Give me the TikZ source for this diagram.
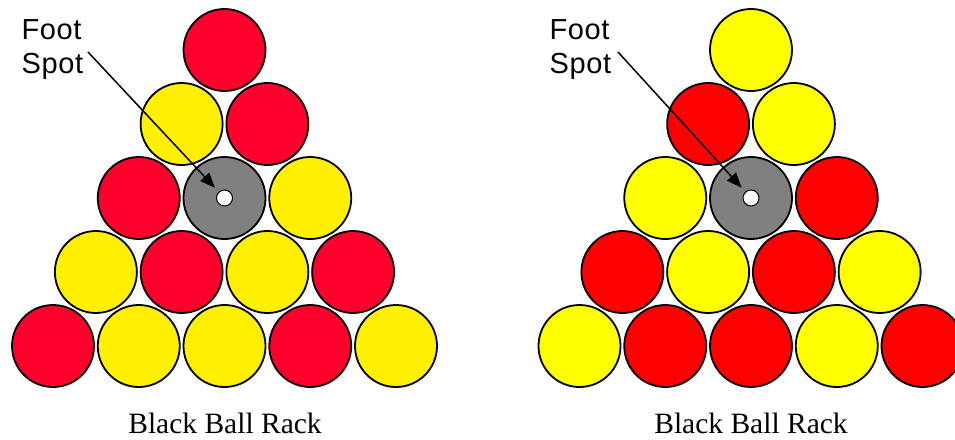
\documentclass[tikz,border=0pt]{standalone}
\usepackage{fontspec}
\setmainfont{Liberation Serif}
\newfontfamily\labelsans[LetterSpace=2]{Liberation Sans}
\usetikzlibrary{arrows.meta}
\definecolor{redL}{RGB}{255,0,45}
\definecolor{yelL}{RGB}{255,240,0}
\definecolor{redR}{RGB}{255,0,0}
\definecolor{yelR}{RGB}{255,255,0}
\definecolor{grayball}{RGB}{128,128,128}
\tikzset{
  ball/.style={circle,draw=black,line width=1.8pt,minimum size=82pt,inner sep=0pt,outer sep=0pt},
  hole/.style={circle,draw=black,line width=1pt,fill=white,minimum size=16pt,inner sep=0pt,outer sep=0pt},
  lbl/.style={anchor=base west,inner sep=0pt,font=\labelsans\fontsize{29}{34}\selectfont},
  caption/.style={anchor=base,inner sep=0pt,font=\fontsize{29.5}{34}\selectfont},
  pointer/.style={line width=1.5pt,-{Triangle[length=15pt,width=12pt]},shorten >=6pt}
}
\newcommand\rackball[5]{%
  \node[ball,fill=#5] (#1) at ({#2-#3*42.875+#4*85.75},{50+#3*74}) {};}
\begin{document}
\begin{tikzpicture}[x=1pt,y=-1pt]
\useasboundingbox (0,0) rectangle (955,439);
\clip (0,0) rectangle (955,439);
% left rack
\rackball{L00}{224.5}{0}{0}{redL}
\rackball{L10}{224.5}{1}{0}{yelL}
\rackball{L11}{224.5}{1}{1}{redL}
\rackball{L20}{224.5}{2}{0}{redL}
\rackball{L21}{224.5}{2}{1}{grayball}
\rackball{L22}{224.5}{2}{2}{yelL}
\rackball{L30}{224.5}{3}{0}{yelL}
\rackball{L31}{224.5}{3}{1}{redL}
\rackball{L32}{224.5}{3}{2}{yelL}
\rackball{L33}{224.5}{3}{3}{redL}
\rackball{L40}{224.5}{4}{0}{redL}
\rackball{L41}{224.5}{4}{1}{yelL}
\rackball{L42}{224.5}{4}{2}{yelL}
\rackball{L43}{224.5}{4}{3}{redL}
\rackball{L44}{224.5}{4}{4}{yelL}
\node[hole] (Lhole) at (L21.center) {};
% right rack
\rackball{R00}{751}{0}{0}{yelR}
\rackball{R10}{751}{1}{0}{redR}
\rackball{R11}{751}{1}{1}{yelR}
\rackball{R20}{751}{2}{0}{yelR}
\rackball{R21}{751}{2}{1}{grayball}
\rackball{R22}{751}{2}{2}{redR}
\rackball{R30}{751}{3}{0}{redR}
\rackball{R31}{751}{3}{1}{yelR}
\rackball{R32}{751}{3}{2}{redR}
\rackball{R33}{751}{3}{3}{yelR}
\rackball{R40}{751}{4}{0}{yelR}
\rackball{R41}{751}{4}{1}{redR}
\rackball{R42}{751}{4}{2}{redR}
\rackball{R43}{751}{4}{3}{yelR}
\rackball{R44}{751}{4}{4}{redR}
\node[hole] (Rhole) at (R21.center) {};
% labels
\node[lbl] (Lfoot) at (21.5,39.3) {Foot};
\node[lbl] (Lspot) at (21.5,73.3) {Spot};
\node[lbl] (Rfoot) at (549.5,39.3) {Foot};
\node[lbl] (Rspot) at (549.5,73.3) {Spot};
\coordinate (Lstart) at (88,52);
\coordinate (Rstart) at (618,52);
\draw[pointer] (Lstart) -- (Lhole);
\draw[pointer] (Rstart) -- (Rhole);
% captions
\node[caption] (Lcap) at (225,433) {Black Ball Rack};
\node[caption] (Rcap) at (751,433) {Black Ball Rack};
\end{tikzpicture}
\end{document}
